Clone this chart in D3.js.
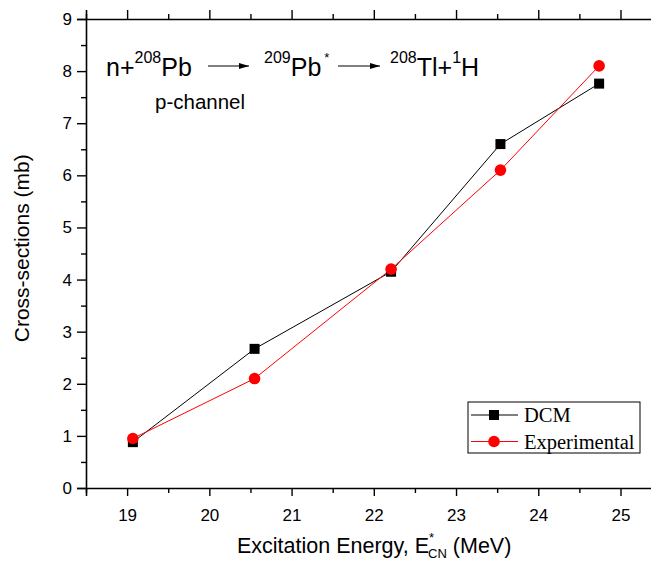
<!DOCTYPE html>
<html lang="en">
<head>
    <meta charset="UTF-8">
    <title>p-channel cross-sections</title>
    <script src="https://cdn.jsdelivr.net/npm/d3@7"></script>
    <style>
        body { margin: 0; background: #fff; }
        svg { display: block; font-family: "Liberation Sans", Arial, sans-serif; }
    </style>
</head>
<body>
<script>
    // data
    var energies = [19.07, 20.55, 22.21, 23.54, 24.74];
    var dcm = [0.88, 2.67, 4.15, 6.6, 7.76];
    var experimental = [0.95, 2.1, 4.2, 6.1, 8.1];
    var xTicks = [19, 20, 21, 22, 23, 24, 25];
    var yTicks = [0, 1, 2, 3, 4, 5, 6, 7, 8, 9];

    var width = 651, height = 565;
    var margin = {left: 86, top: 19, bottom: 77};

    var svg = d3.select('body').append('svg').attr('width', width).attr('height', height);

    // right end of the frame lies outside the picture (it was cropped)
    var x = d3.scaleLinear().domain([18.5, 25.5]).range([margin.left, margin.left + 7 * 82.23]);
    var y = d3.scaleLinear().domain([0, 9]).range([height - margin.bottom, margin.top]);

    var xMinor = d3.range(18.5, 25.51, 0.5).filter(function(v){ return v % 1 !== 0; });
    var yMinor = d3.range(0.5, 9, 1);

    //bottom axis
    var axB = svg.append('g').attr('transform', 'translate(0,' + y(0) + ')');
    axB.call(d3.axisBottom(x).tickValues(xTicks).tickSize(8).tickPadding(9).tickFormat(d3.format('d')));
    axB.append('g').call(d3.axisBottom(x).tickValues(xMinor).tickSize(5).tickFormat(''))
        .select('.domain').remove();

    //top axis, no labels
    var axT = svg.append('g').attr('transform', 'translate(0,' + y(9) + ')');
    axT.call(d3.axisTop(x).tickValues(xTicks).tickSize(9).tickFormat(''));
    axT.append('g').call(d3.axisTop(x).tickValues(xMinor).tickSize(5).tickFormat(''))
        .select('.domain').remove();

    //left axis
    var axL = svg.append('g').attr('transform', 'translate(' + margin.left + ',0)');
    axL.call(d3.axisLeft(y).tickValues(yTicks).tickSize(9).tickPadding(5));
    axL.append('g').call(d3.axisLeft(y).tickValues(yMinor).tickSize(5).tickFormat(''))
        .select('.domain').remove();

    svg.selectAll('.domain').attr('stroke', '#000').attr('stroke-width', 1.6);
    svg.selectAll('.tick line').attr('stroke', '#000').attr('stroke-width', 1.4);
    svg.selectAll('.tick text').attr('font-family', '"Liberation Sans", Arial, sans-serif')
        .attr('font-size', 17).attr('fill', '#000');
    axB.selectAll('.tick text').attr('dy', '0.95em');

    //axis titles
    svg.append('text')
        .attr('transform', 'translate(29,' + y(4.6) + ') rotate(-90)')
        .attr('text-anchor', 'middle')
        .attr('font-size', 21)
        .text('Cross-sections (mb)');

    var xt = svg.append('text').attr('x', 237).attr('y', 553).attr('font-size', 21.5);
    xt.append('tspan').text('Excitation Energy, E');
    xt.append('tspan').attr('font-size', 13).attr('dy', -11).text('*');
    xt.append('tspan').attr('font-size', 13).attr('dx', -6).attr('dy', 16).text('CN');
    xt.append('tspan').attr('dy', -5).text(' (MeV)');

    //reaction text
    function nucleus(xpos, parts){
        var t = svg.append('text').attr('x', xpos).attr('y', 76).attr('font-size', 25);
        parts.forEach(function(p){
            if (p.sup) t.append('tspan').attr('font-size', 16).attr('dy', -13).text(p.sup);
            if (p.text) t.append('tspan').attr('dy', p.sup ? 13 : 0).text(p.text);
        });
        return t;
    }
    nucleus(106, [{text: 'n+'}, {sup: '208', text: 'Pb'}]);
    var t2 = nucleus(264, [{sup: '209', text: 'Pb'}]);
    t2.append('tspan').attr('font-size', 13).attr('dx', 3).attr('dy', -14).text('*');
    nucleus(390, [{sup: '208', text: 'Tl+'}, {sup: '1', text: 'H'}]);

    svg.append('defs').append('marker')
        .attr('id', 'arrow').attr('viewBox', '0 0 10 6').attr('refX', 10).attr('refY', 3)
        .attr('markerWidth', 10).attr('markerHeight', 6).attr('markerUnits', 'userSpaceOnUse')
        .attr('orient', 'auto')
        .append('path').attr('d', 'M0,0 L10,3 L0,6 Z').attr('fill', '#000');
    [[208, 249], [338, 380]].forEach(function(a){
        svg.append('line').attr('x1', a[0]).attr('x2', a[1]).attr('y1', 66).attr('y2', 66)
            .attr('stroke', '#000').attr('stroke-width', 1.2).attr('marker-end', 'url(#arrow)');
    });

    svg.append('text').attr('x', 155).attr('y', 109).attr('font-size', 20.5).text('p-channel');

    //series
    var line = d3.line().x(function(d){ return x(d[0]); }).y(function(d){ return y(d[1]); });
    var dcmPts = d3.zip(energies, dcm);
    var expPts = d3.zip(energies, experimental);

    svg.append('path').datum(dcmPts).attr('d', line).attr('fill', 'none').attr('stroke', '#000').attr('stroke-width', 1);
    svg.append('path').datum(expPts).attr('d', line).attr('fill', 'none').attr('stroke', '#f00').attr('stroke-width', 1);

    svg.selectAll('rect.dcm').data(dcmPts).enter().append('rect')
        .attr('class', 'dcm')
        .attr('x', function(d){ return x(d[0]) - 5; })
        .attr('y', function(d){ return y(d[1]) - 5; })
        .attr('width', 10).attr('height', 10).attr('fill', '#000');
    svg.selectAll('circle.exp').data(expPts).enter().append('circle')
        .attr('class', 'exp')
        .attr('cx', function(d){ return x(d[0]); })
        .attr('cy', function(d){ return y(d[1]); })
        .attr('r', 5.8).attr('fill', '#f00');

    //legend
    var lg = svg.append('g').attr('transform', 'translate(468,402)');
    lg.append('rect').attr('width', 172).attr('height', 51).attr('fill', '#fff')
        .attr('stroke', '#000').attr('stroke-width', 1);
    var items = [{name: 'DCM', color: '#000', shape: 'square'}, {name: 'Experimental', color: '#f00', shape: 'circle'}];
    items.forEach(function(it, i){
        var g = lg.append('g').attr('transform', 'translate(0,' + (13 + i * 26.5) + ')');
        g.append('line').attr('x1', 3).attr('x2', 50).attr('stroke', it.color).attr('stroke-width', 1);
        if (it.shape === 'square') g.append('rect').attr('x', 21).attr('y', -5).attr('width', 10).attr('height', 10).attr('fill', it.color);
        else g.append('circle').attr('cx', 26).attr('r', 5.8).attr('fill', it.color);
        g.append('text').attr('x', 56).attr('y', 7)
            .attr('font-family', '"Liberation Serif", "Times New Roman", serif')
            .attr('font-size', 20.5).text(it.name);
    });
</script>
</body>
</html>
